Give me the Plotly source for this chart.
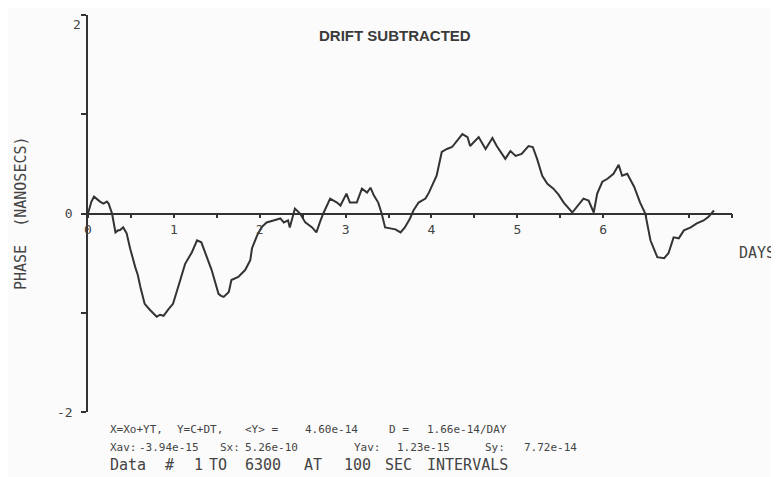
import plotly.graph_objects as go

# phase residual (days, nanoseconds)
days = [0.00, 0.04, 0.07, 0.11, 0.14, 0.18, 0.22, 0.24, 0.28, 0.32, 0.35, 0.37, 0.41, 0.45, 0.49,
        0.55, 0.58, 0.61, 0.64, 0.66, 0.72, 0.76, 0.80, 0.84, 0.88, 0.94, 0.99, 1.05, 1.13, 1.21,
        1.27, 1.32, 1.36, 1.44, 1.52, 1.55, 1.58, 1.64, 1.67, 1.75, 1.83, 1.89, 1.91, 1.97, 2.02,
        2.08, 2.16, 2.24, 2.28, 2.33, 2.35, 2.41, 2.47, 2.53, 2.61, 2.66, 2.70, 2.74, 2.82, 2.90,
        2.94, 3.01, 3.05, 3.13, 3.19, 3.25, 3.29, 3.33, 3.38, 3.42, 3.46, 3.52, 3.58, 3.64, 3.69,
        3.75, 3.79, 3.85, 3.93, 3.97, 4.02, 4.06, 4.12, 4.18, 4.24, 4.30, 4.36, 4.42, 4.45, 4.55,
        4.63, 4.71, 4.76, 4.86, 4.92, 4.98, 5.05, 5.13, 5.18, 5.23, 5.29, 5.35, 5.42, 5.48, 5.54,
        5.64, 5.70, 5.77, 5.83, 5.89, 5.93, 5.99, 6.05, 6.12, 6.18, 6.22, 6.28, 6.36, 6.43, 6.49,
        6.55, 6.63, 6.71, 6.76, 6.82, 6.88, 6.94, 7.02, 7.09, 7.17, 7.23, 7.29]
phase = [0.00, 0.12, 0.17, 0.14, 0.12, 0.10, 0.12, 0.10, 0.00, -0.19, -0.17, -0.17, -0.14, -0.20, -0.35,
         -0.54, -0.62, -0.74, -0.84, -0.91, -0.97, -1.01, -1.04, -1.02, -1.03, -0.96, -0.91, -0.74, -0.51, -0.39,
         -0.27, -0.29, -0.39, -0.57, -0.81, -0.83, -0.84, -0.79, -0.67, -0.64, -0.57, -0.47, -0.35, -0.22, -0.14,
         -0.09, -0.07, -0.05, -0.09, -0.07, -0.14, 0.05, 0.00, -0.09, -0.14, -0.19, -0.09, 0.00, 0.15, 0.11,
         0.08, 0.20, 0.11, 0.11, 0.25, 0.21, 0.26, 0.18, 0.11, 0.00, -0.14, -0.15, -0.16, -0.19, -0.14,
         -0.05, 0.03, 0.11, 0.15, 0.21, 0.30, 0.38, 0.62, 0.65, 0.67, 0.73, 0.80, 0.77, 0.68, 0.77,
         0.65, 0.76, 0.68, 0.55, 0.63, 0.58, 0.60, 0.68, 0.67, 0.55, 0.38, 0.30, 0.25, 0.19, 0.11,
         0.01, 0.08, 0.15, 0.13, 0.01, 0.20, 0.32, 0.35, 0.40, 0.49, 0.38, 0.40, 0.27, 0.11, 0.00,
         -0.27, -0.44, -0.45, -0.40, -0.24, -0.25, -0.17, -0.14, -0.10, -0.07, -0.03, 0.03]

x_ticks = [0, 0.5, 1, 1.5, 2, 2.5, 3, 3.5, 4, 4.5, 5, 5.5, 6, 6.5, 7, 7.5]
x_labels = ["0", "", "1", "", "2", "", "3", "", "4", "", "5", "", "6", "", "", ""]
y_ticks = [-2, -1, 0, 1, 2]
y_labels = ["-2", "", "0", "", ""]   # the top "2" is placed as an annotation so it is not clipped

footer = [
    # line 1
    ("X=Xo+YT,", 108, 429, 11), ("Y=C+DT,", 175, 429, 11), ("&lt;Y&gt; =", 243, 429, 11),
    ("4.60e-14", 303, 429, 11), ("D =", 387, 429, 11), ("1.66e-14/DAY", 425, 429, 11),
    # line 2
    ("Xav:", 108, 447, 11), ("-3.94e-15", 137, 447, 11), ("Sx:", 218, 447, 11),
    ("5.26e-10", 243, 447, 11), ("Yav:", 352, 447, 11), ("1.23e-15", 395, 447, 11),
    ("Sy:", 483, 447, 11), ("7.72e-14", 522, 447, 11),
    # line 3
    ("Data", 108, 465, 15), ("#", 163, 465, 15), ("1", 192, 465, 15), ("TO", 207, 465, 15),
    ("6300", 243, 465, 15), ("AT", 302, 465, 15), ("100", 342, 465, 15), ("SEC", 383, 465, 15),
    ("INTERVALS", 425, 465, 15),
]

# page body has an 8px margin, so the figure is shrunk and everything shifted by it
OFF = 8
W, H = 779 - OFF, 477 - OFF
ML, MR, MT, MB = 88 - OFF, 47, 15 - OFF, 65
INK = "#333333"
MONO = "DejaVu Sans Mono"


def px(x, y):
    # screen pixel of the reference -> paper coords
    x, y = x - OFF, y - OFF
    return (x - ML) / (W - ML - MR), (H - MB - y) / (H - MT - MB)


fig = go.Figure(go.Scatter(x=days, y=phase, mode="lines",
                           line=dict(color=INK, width=2), hoverinfo="skip"))

fig.update_layout(
    width=W, height=H, margin=dict(l=ML, r=MR, t=MT, b=MB, autoexpand=False),
    paper_bgcolor="#fbfbfb", plot_bgcolor="#fbfbfb", showlegend=False,
    xaxis=dict(range=[0, 7.5], anchor="free", position=0.5, showline=True, linecolor=INK,
               linewidth=1.5, ticks="outside", ticklen=4, tickwidth=1.5, tickcolor=INK,
               tickvals=x_ticks, ticktext=x_labels, showgrid=False, zeroline=False,
               automargin=False, tickfont=dict(family=MONO, size=13, color="#444")),
    yaxis=dict(range=[-2, 2], showline=True, linecolor=INK, linewidth=1.5, ticks="outside",
               ticklen=5, tickwidth=1.5, tickcolor=INK, tickvals=y_ticks, ticktext=y_labels,
               showgrid=False, zeroline=False, automargin=False, ticklabelstandoff=6,
               tickfont=dict(family=MONO, size=13, color="#444")),
)

ann = []
tx, ty = px(395, 25)
ann.append(dict(text="<b>DRIFT SUBTRACTED</b>", x=tx, y=ty, xref="paper", yref="paper",
                showarrow=False, font=dict(family="Liberation Sans", size=15, color="#3a3a3a")))
tx, ty = px(71, 15)
ann.append(dict(text="2", x=tx, y=ty, xref="paper", yref="paper", showarrow=False,
                font=dict(family=MONO, size=13, color="#444")))
tx, ty = px(10, 213)
ann.append(dict(text="PHASE  (NANOSECS)", x=tx, y=ty, xref="paper", yref="paper", textangle=-90,
                showarrow=False, font=dict(family=MONO, size=15, color="#444")))
tx, ty = px(777, 253)
ann.append(dict(text="DAYS", x=tx, y=ty, xref="paper", yref="paper", xanchor="right",
                showarrow=False, font=dict(family=MONO, size=15, color="#444")))
for text, x, y, size in footer:
    tx, ty = px(x, y)
    ann.append(dict(text=text, x=tx, y=ty, xref="paper", yref="paper", xanchor="left",
                    yanchor="middle", showarrow=False,
                    font=dict(family=MONO, size=size, color="#444")))
fig.update_layout(annotations=ann)

fig.write_html("out.html")
